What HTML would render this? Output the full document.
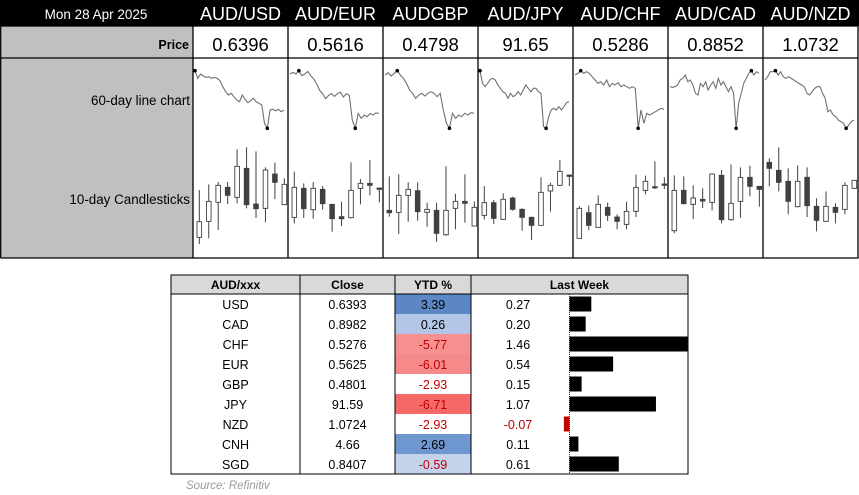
<!DOCTYPE html>
<html><head><meta charset="utf-8"><style>
body{margin:0;background:#fff;}
svg{display:block;font-family:"Liberation Sans",sans-serif;}
</style></head><body>
<svg id="s" width="859" height="495" viewBox="0 0 859 495" xmlns="http://www.w3.org/2000/svg">
<rect x="0" y="0" width="859" height="26" fill="#000"/>
<text x="96" y="19" fill="#fff" font-size="13.5" text-anchor="middle">Mon 28 Apr 2025</text>
<rect x="1" y="26" width="192" height="232" fill="#c0c0c0"/>
<text x="189" y="49" font-size="12.5" font-weight="bold" text-anchor="end">Price</text>
<text x="190" y="105" font-size="13.4" text-anchor="end">60-day line chart</text>
<text x="190" y="204" font-size="13.4" text-anchor="end">10-day Candlesticks</text>
<g id="topg"></g>
<g id="tbl"></g>
<text x="186" y="489" font-size="11.5" font-style="italic" fill="#999">Source: Refinitiv</text>
</svg>
<script>
const pairs=["AUD/USD","AUD/EUR","AUDGBP","AUD/JPY","AUD/CHF","AUD/CAD","AUD/NZD"];
const prices=["0.6396","0.5616","0.4798","91.65","0.5286","0.8852","1.0732"];
const lineUSD=[173,150,163,157,153,155,150,153,150,143,125,110,100,105,95,85,80,100,87,77,83,90,80,75,70,15,0,55,57,53,57,50,55];
const lineEUR=[165,170,165,175,160,165,173,160,150,135,115,105,90,100,105,97,105,110,95,105,100,25,0,45,30,40,35,45,40,47,45];
const lineGBP=[160,167,157,165,173,160,150,135,115,105,90,100,105,97,105,110,105,95,105,55,15,0,45,30,40,35,45,40,47,45];
const lineJPY=[173,135,125,135,147,150,145,130,120,110,105,90,105,95,100,110,100,115,130,120,110,120,120,110,105,5,0,35,55,60,55,65,55,65,77,80];
const lineCHF=[160,165,173,165,170,165,155,145,135,140,130,145,125,135,130,137,125,130,125,120,125,120,0,55,15,45,40,45,50,55,60,57];
const lineCAD=[125,123,125,130,145,150,160,140,145,130,105,100,135,125,140,115,130,140,120,150,130,140,125,110,125,105,0,75,105,135,150,165,173,160,170,165];
const lineNZD=[145,155,170,170,173,160,170,155,150,155,150,145,140,135,130,125,105,100,110,120,125,125,105,90,50,55,40,35,25,20,15,0,10,20,25];
const lines=[lineUSD,lineEUR,lineGBP,lineJPY,lineCHF,lineCAD,lineNZD];
// candles: [open, high, low, close]
const candUSD=[[68,210,48,115],[116,227,65,176],[173,234,90,224],[218,234,168,194],[188,332,170,281],[275,338,155,166],[168,326,126,154],[155,278,113,270],[258,292,183,233],[166,245,166,227]];
const candEUR=[[128,265,110,218],[215,230,126,154],[151,234,124,215],[212,222,151,169],[167,167,85,124],[130,175,102,124],[127,293,125,209],[215,243,167,230],[230,300,194,224],[216,216,173,212]];
const candGBP=[[149,251,130,142],[143,257,78,194],[194,233,115,212],[208,233,118,145],[143,172,100,152],[149,172,55,80],[76,281,72,149],[155,199,92,176],[176,257,112,170],[102,176,102,158]];
const candJPY=[[134,222,122,172],[172,180,108,125],[122,200,120,182],[186,190,148,152],[152,155,88,128],[128,130,60,104],[104,248,104,203],[207,232,145,224],[224,300,222,266],[255,255,222,251]];
const candCHF=[[65,162,65,155],[142,164,90,104],[98,194,97,167],[158,172,117,134],[129,137,92,116],[107,175,92,146],[146,256,129,218],[209,253,197,236],[220,296,213,217],[228,248,213,224]];
const candCAD=[[88,254,80,209],[209,251,167,169],[167,224,123,186],[182,215,156,177],[173,260,149,258],[254,270,110,121],[121,287,118,170],[176,278,127,248],[248,283,191,221],[221,221,160,212]];
const candNZD=[[293,305,221,275],[269,338,206,233],[236,275,137,176],[160,284,158,236],[248,278,129,163],[161,185,86,119],[116,206,116,161],[158,170,110,143],[152,233,137,224],[215,239,215,239]];
const candles=[candUSD,candEUR,candGBP,candJPY,candCHF,candCAD,candNZD];
// table
const tCur=["USD","CAD","CHF","EUR","GBP","JPY","NZD","CNH","SGD"];
const tClose=["0.6393","0.8982","0.5276","0.5625","0.4801","91.59","1.0724","4.66","0.8407"];
const tYtd=[3.39,0.26,-5.77,-6.01,-2.93,-6.71,-2.93,2.69,-0.59];
const tWeek=[0.27,0.20,1.46,0.54,0.15,1.07,-0.07,0.11,0.61];
const ytdFill=["#5b87c5","#b4c6e7","#f79090","#f68989","#ffffff","#f56969","#ffffff","#6e97cf","#c4d2ec"];

const NS="http://www.w3.org/2000/svg";
function mk(tag,attrs,parent,txt){const e=document.createElementNS(NS,tag);for(const k in attrs)e.setAttribute(k,attrs[k]);if(txt!==undefined)e.textContent=txt;parent.appendChild(e);return e;}
const topG=document.getElementById('topg');
const colW=95, x0=193;
const cvMin=40,cvMax=345,cyTop=145,cyBot=246.7;
function cy(v){return cyBot-(v-cvMin)/(cvMax-cvMin)*(cyBot-cyTop);}
pairs.forEach((p,i)=>{
  const L=x0+i*colW;
  const t=mk('text',{x:L+colW/2,y:20,fill:'#fff','font-size':18,'text-anchor':'middle'},topG,p);
  
  
  const pv=mk('text',{x:L+colW/2,y:51,'font-size':18.5,'text-anchor':'middle'},topG,prices[i]);
  
  
  const d=lines[i];const mn=Math.min(...d),mx=Math.max(...d);
  const sx=k=>L+2+k*(colW-6)/(d.length-1);
  const sy=v=>128.3-(v-mn)/(mx-mn)*57.6;
  const pts=d.map((v,k)=>sx(k).toFixed(1)+','+sy(v).toFixed(1)).join(' ');
  const pl=mk('polyline',{points:pts,fill:'none',stroke:'#707070','stroke-width':1.1},topG);
  
  
  const imx=d.indexOf(mx),imn=d.indexOf(mn);
  const d1=mk('circle',{cx:sx(imx),cy:sy(mx),r:1.8,fill:'#000'},topG);
  
  
  const d2=mk('circle',{cx:sx(imn),cy:sy(mn),r:1.8,fill:'#000'},topG);
  
  
  candles[i].forEach((c,k)=>{
    const cx=L+6.3+k*9.45;
    const [o,h,l,cl]=c;
    const w=mk('line',{x1:cx,x2:cx,y1:cy(h),y2:cy(l),stroke:'#404040','stroke-width':1},topG);
    
    
    const yt=cy(Math.max(o,cl)),yb=cy(Math.min(o,cl));
    const b=mk('rect',{x:cx-2.3,y:yt,width:4.6,height:Math.max(1.2,yb-yt),fill:cl<o?'#404040':'#fff',stroke:'#404040','stroke-width':0.9},topG);
    
    
  });
});
for(let i=0;i<=7;i++){const X=x0+i*colW;const ln=mk('line',{x1:X,x2:X,y1:26,y2:258,stroke:'#000','stroke-width':1.3},topG);}
[26,58,258].forEach(Y=>{const ln=mk('line',{x1:0.5,x2:858.5,y1:Y,y2:Y,stroke:'#000','stroke-width':1.3},topG);});
const lb=mk('line',{x1:0.7,x2:0.7,y1:26,y2:258,stroke:'#000','stroke-width':1.3},topG);

const tb=document.getElementById('tbl');
const TX=[171,300,395,471,688];const TY0=275,HH=19,RH=20;
const hb=mk('rect',{x:171,y:TY0,width:517,height:HH,fill:'#d9d9d9'},tb);


["AUD/xxx","Close","YTD %","Last Week"].forEach((h,j)=>{
  const t=mk('text',{x:(TX[j]+TX[j+1])/2,y:TY0+14,'font-size':12,'font-weight':'bold','text-anchor':'middle'},tb,h);
  
  
});
const axisX=569.5,perUnit=80.8;
tCur.forEach((c,r)=>{
  const y=TY0+HH+r*RH;
  const f=mk('rect',{x:395,y:y,width:76,height:RH,fill:ytdFill[r]},tb);
  
  
  const vals=[c,tClose[r],tYtd[r].toFixed(2),tWeek[r].toFixed(2)];
  const cx=[235.5,347.5,433,518];
  vals.forEach((v,j)=>{
    let col='#000';
    if(j==2&&tYtd[r]<0)col='#c00000';
    if(j==3&&tWeek[r]<0)col='#c00000';
    const t=mk('text',{x:cx[j],y:y+15,'font-size':12.5,'text-anchor':'middle',fill:col},tb,v);
    
    
  });
  const v=tWeek[r];const w=Math.abs(v)*perUnit;
  const b=mk('rect',{x:v>=0?axisX:axisX-w,y:y+2.5,width:w,height:15,fill:v>=0?'#000':'#c00000'},tb);
  
  
});
const ax=mk('line',{x1:axisX,x2:axisX,y1:TY0+HH,y2:TY0+HH+9*RH,stroke:'#000','stroke-width':0.8,'stroke-dasharray':'1,1'},tb);


const ob=mk('rect',{x:171,y:TY0,width:517,height:HH+9*RH,fill:'none',stroke:'#000','stroke-width':1},tb);


const hl=mk('line',{x1:171,x2:688,y1:TY0+HH,y2:TY0+HH,stroke:'#000','stroke-width':1},tb);


[300,395,471].forEach(X=>{const l=mk('line',{x1:X,x2:X,y1:TY0,y2:TY0+HH+9*RH,stroke:'#000','stroke-width':1},tb);});
</script>
</body></html>
